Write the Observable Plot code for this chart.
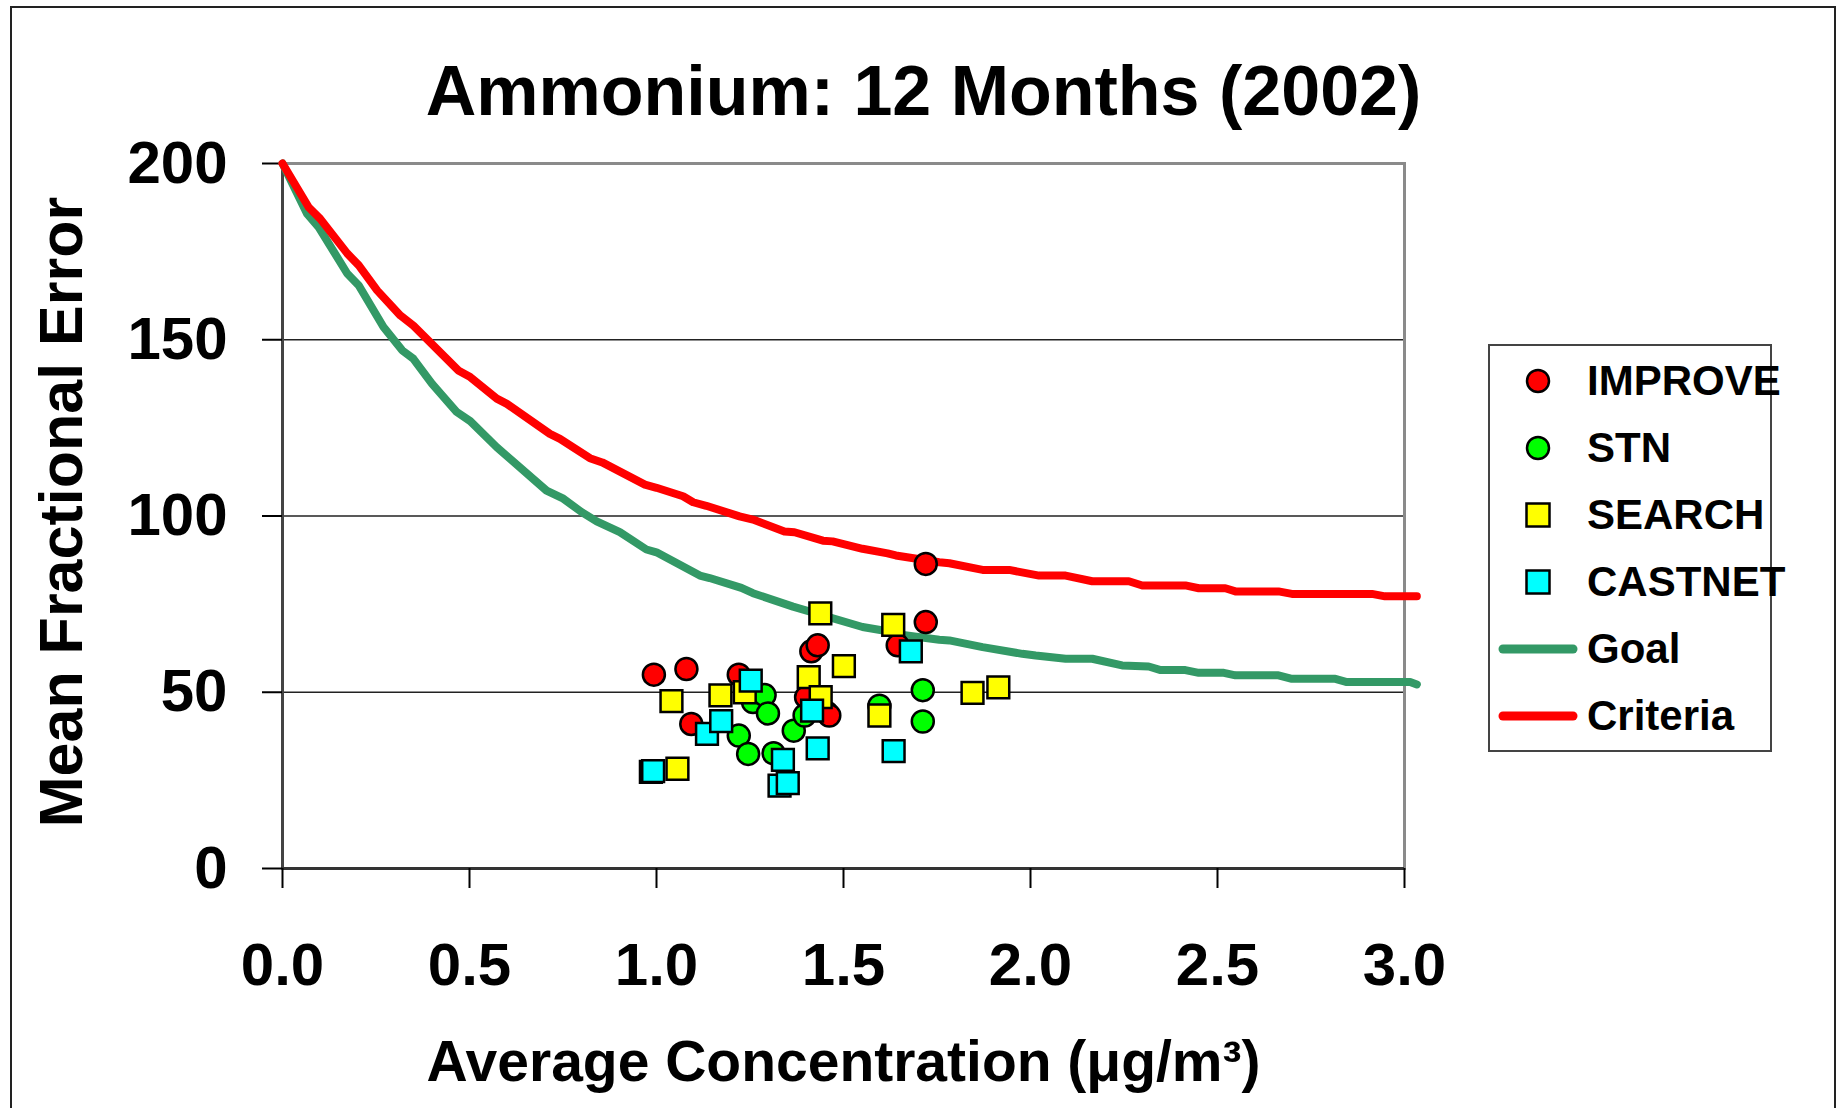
<!DOCTYPE html>
<html><head><meta charset="utf-8">
<script src="https://cdn.jsdelivr.net/npm/d3@7"></script>
<script src="https://cdn.jsdelivr.net/npm/@observablehq/plot@0.6"></script>
<style>
html,body{margin:0;padding:0;background:#fff;}
#wrap{position:relative;width:1839px;height:1108px;overflow:hidden;font-family:"Liberation Sans",Arial,sans-serif;background:#fff;}
#wrap > svg{position:absolute;left:0;top:0;}
#border{position:absolute;left:10px;top:6px;width:1826px;height:1130px;border:2px solid #222;box-sizing:border-box;pointer-events:none;}
#legend{position:absolute;left:1488px;top:344px;width:284px;height:408px;border:2px solid #444;box-sizing:border-box;background:#fff;padding-top:1px;overflow:visible;}
.row{display:flex;align-items:center;height:67px;white-space:nowrap;overflow:visible;}
.row svg{margin-left:8px;margin-right:9px;display:block;flex:0 0 80px;}
.row span{font-size:42px;font-weight:bold;color:#000;line-height:1;flex:0 0 auto;}
</style></head><body><div id="wrap"><div id="border"></div></div>
<script>
// ---- Data ----
const title = "Ammonium: 12 Months (2002)";
const xTitle = "Average Concentration (\u03bcg/m\u00b3)";
const yTitle = "Mean Fractional Error";

const xTicks = [0, 0.5, 1, 1.5, 2, 2.5, 3];
const xTickLabels = ["0.0", "0.5", "1.0", "1.5", "2.0", "2.5", "3.0"];
const yTicks = [0, 50, 100, 150, 200];
const yTickLabels = ["0", "50", "100", "150", "200"];
const yGrid = [50, 100, 150];

const seriesNames = ["IMPROVE", "STN", "SEARCH", "CASTNET", "Goal", "Criteria"];
const seriesColors = ["#ff0000", "#00ff00", "#ffff00", "#00ffff", "#339966", "#ff0000"];
const seriesSymbols = ["circle", "circle", "square", "square", "line", "line"];

const improveX = [0.993, 1.080, 1.220, 1.093, 1.400, 1.414, 1.431, 1.455, 1.462, 1.645, 1.720, 1.720];
const improveY = [55.0, 56.6, 55.0, 41.0, 48.6, 61.6, 63.3, 44.2, 43.4, 63.3, 69.9, 86.4];

const stnX = [1.220, 1.245, 1.258, 1.289, 1.298, 1.313, 1.367, 1.396, 1.596, 1.712, 1.712];
const stnY = [37.7, 32.5, 47.2, 49.2, 44.0, 32.7, 39.1, 43.4, 46.2, 50.6, 41.7];

const searchX = [1.040, 1.056, 1.171, 1.236, 1.407, 1.438, 1.439, 1.501, 1.596, 1.633, 1.845, 1.914];
const searchY = [47.5, 28.3, 49.1, 50.0, 54.3, 72.4, 48.6, 57.4, 43.4, 69.1, 49.8, 51.4];

const castnetX = [0.985, 0.991, 1.135, 1.173, 1.252, 1.329, 1.338, 1.351, 1.416, 1.431, 1.634, 1.680];
const castnetY = [27.4, 27.6, 38.2, 41.8, 53.3, 23.5, 30.8, 24.2, 44.8, 34.1, 33.3, 61.6];

const goalX = [0, 0.066, 0.097, 0.173, 0.204, 0.270, 0.320, 0.350, 0.400, 0.466, 0.502, 0.573, 0.706, 0.751, 0.800, 0.840, 0.902, 0.973, 1.000, 1.116, 1.142, 1.227, 1.258, 1.365, 1.551, 1.618, 1.649, 1.756, 1.783, 1.872, 1.978, 2.014, 2.094, 2.165, 2.245, 2.316, 2.348, 2.414, 2.450, 2.517, 2.548, 2.663, 2.699, 2.815, 2.846, 3.015, 3.033];
const goalY = [200, 185.7, 181.9, 168.8, 165.4, 153.6, 147.0, 144.6, 137.5, 129.5, 126.9, 119.5, 107.2, 104.9, 101.1, 98.5, 95.4, 90.5, 89.7, 83.1, 82.4, 79.6, 78.1, 74.3, 68.5, 67.3, 66.4, 64.9, 64.7, 62.8, 60.9, 60.4, 59.5, 59.5, 57.6, 57.3, 56.3, 56.3, 55.5, 55.5, 54.8, 54.8, 53.8, 53.8, 52.9, 52.9, 52.2];

const criteriaX = [0, 0.070, 0.101, 0.173, 0.204, 0.253, 0.315, 0.350, 0.470, 0.502, 0.573, 0.600, 0.715, 0.742, 0.822, 0.855, 0.969, 1.000, 1.071, 1.098, 1.133, 1.222, 1.258, 1.342, 1.369, 1.445, 1.471, 1.551, 1.618, 1.640, 1.756, 1.783, 1.872, 1.943, 2.023, 2.094, 2.165, 2.263, 2.299, 2.414, 2.450, 2.521, 2.548, 2.663, 2.699, 2.913, 2.948, 3.033];
const criteriaY = [200, 187.6, 184.3, 174.5, 171.1, 164.0, 156.9, 154.0, 141.3, 139.4, 133.3, 131.8, 123.3, 121.9, 116.4, 115.2, 108.9, 108.0, 105.6, 103.9, 102.9, 99.9, 99.0, 95.6, 95.4, 93.0, 92.8, 90.7, 89.4, 88.8, 86.9, 86.6, 84.7, 84.7, 83.1, 83.1, 81.5, 81.5, 80.3, 80.3, 79.5, 79.5, 78.6, 78.6, 77.9, 77.9, 77.2, 77.2];

// ---- Chart ----
const pointSeries = [
  {x: improveX, y: improveY, i: 0},
  {x: stnX, y: stnY, i: 1},
  {x: searchX, y: searchY, i: 2},
  {x: castnetX, y: castnetY, i: 3}
];

const dotMarks = pointSeries.map(s => Plot.dot(s.x, {
  x: s.x, y: s.y,
  symbol: seriesSymbols[s.i],
  r: seriesSymbols[s.i] === "square" ? 12.3 : 11,
  fill: seriesColors[s.i], stroke: "#000", strokeWidth: 2.5
}));

const chart = Plot.plot({
  width: 1839, height: 1108,
  marginLeft: 282, marginRight: 435, marginTop: 163, marginBottom: 240,
  x: {domain: [0, 3]},
  y: {domain: [0, 200]},
  style: {fontFamily: "'Liberation Sans', Arial, sans-serif", fontWeight: "bold", background: "transparent", overflow: "visible", color: "#000"},
  marks: [
    Plot.ruleY(yGrid, {stroke: "#222", strokeWidth: 1.4}),
    Plot.frame({stroke: "#8a8a8a", strokeWidth: 3}),
    Plot.ruleX([0], {stroke: "#444", strokeWidth: 3}),
    Plot.ruleY([0], {stroke: "#333", strokeWidth: 3}),
    Plot.axisY(yTicks, {tickSize: 20, tickPadding: 35, fontSize: 60, fontWeight: "bold", strokeWidth: 2, label: null,
      tickFormat: (d, i) => yTickLabels[yTicks.indexOf(d)]}),
    Plot.axisX(xTicks, {tickSize: 20, tickPadding: 54, fontSize: 60, fontWeight: "bold", strokeWidth: 2, label: null,
      tickFormat: (d, i) => xTickLabels[xTicks.indexOf(d)]}),
    Plot.line(goalX, {x: goalX, y: goalY, stroke: seriesColors[4], strokeWidth: 8, strokeLinecap: "round", strokeLinejoin: "round"}),
    Plot.line(criteriaX, {x: criteriaX, y: criteriaY, stroke: seriesColors[5], strokeWidth: 8, strokeLinecap: "round", strokeLinejoin: "round"}),
    ...dotMarks,
    Plot.text([title], {frameAnchor: "top", dx: 80, dy: -98, lineAnchor: "top", textAnchor: "middle", fontSize: 70, fontWeight: "bold", fill: "#000"}),
    Plot.text([xTitle], {frameAnchor: "bottom", dx: 0, dy: 172, lineAnchor: "top", textAnchor: "middle", fontSize: 57, fontWeight: "bold", fill: "#000"}),
    Plot.text([yTitle], {frameAnchor: "left", rotate: -90, dx: -244, dy: -4, lineAnchor: "top", textAnchor: "middle", fontSize: 61, fontWeight: "bold", fill: "#000"})
  ]
});

const wrap = document.getElementById("wrap");
wrap.insertBefore(chart, wrap.firstChild);

// ---- Legend (HTML) ----
const legend = document.createElement("div");
legend.id = "legend";
seriesNames.forEach((name, i) => {
  const row = document.createElement("div");
  row.className = "row";
  const sym = seriesSymbols[i];
  let icon;
  if (sym === "circle") icon = `<circle cx="40" cy="16" r="11" fill="${seriesColors[i]}" stroke="#000" stroke-width="2.5"/>`;
  else if (sym === "square") icon = `<rect x="28.5" y="4.5" width="23" height="23" fill="${seriesColors[i]}" stroke="#000" stroke-width="2.5"/>`;
  else icon = `<line x1="5" y1="16" x2="75" y2="16" stroke="${seriesColors[i]}" stroke-width="9" stroke-linecap="round"/>`;
  row.innerHTML = `<svg width="80" height="32" viewBox="0 0 80 32">${icon}</svg><span>${name}</span>`;
  legend.appendChild(row);
});
wrap.appendChild(legend);
</script></body></html>
